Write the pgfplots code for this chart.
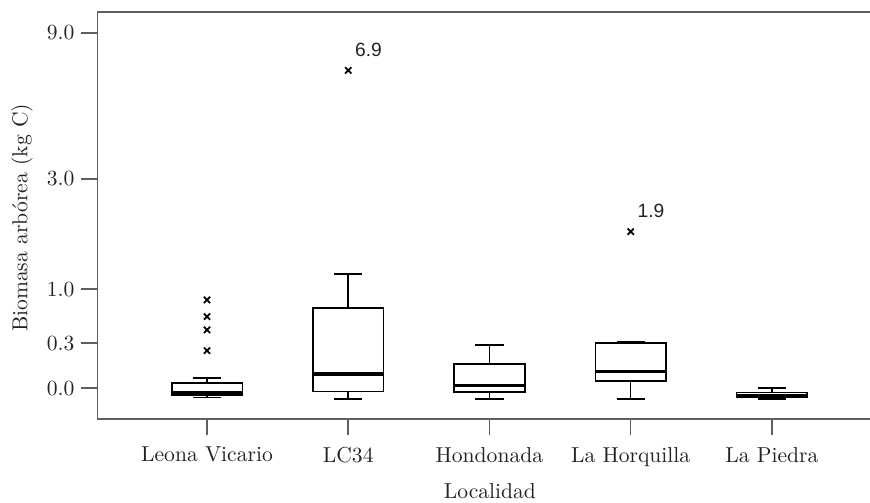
\documentclass[border=0pt]{standalone}
\usepackage{fontspec}
\usepackage{pgfplots}
\pgfplotsset{compat=1.18}
\usepgfplotslibrary{statistics}
\newfontfamily\arial{Liberation Sans}
\definecolor{axisgray}{RGB}{95,95,95}
\definecolor{txt}{RGB}{35,35,35}
\begin{document}
\begin{tikzpicture}
\path[use as bounding box] (0,0) rectangle (435pt,251pt);
\begin{axis}[
  at={(48.75pt,41.5pt)}, anchor=south west,
  width=386.25pt, height=203.5pt, scale only axis,
  xmin=0.2245, xmax=5.695,
  ymin=-0.1151, ymax=10.398,
  y coord trafo/.code={%
    \edef\tmparg{#1}%
    \ifx\tmparg\empty\def\pgfmathresult{}\else\pgfmathparse{ln(1+#1)}\fi},
  y coord inv trafo/.code={\pgfmathparse{exp(#1)-1}},
  axis y line*=left,
  xtick pos=bottom, ytick pos=left,
  tick align=outside, major tick length=8pt,
  axis line style={axisgray, line width=0.8pt},
  tick style={axisgray, line width=0.8pt},
  xtick={1,2,3,4,5},
  xticklabels={Leona Vicario, LC34, Hondonada, La Horquilla, La Piedra},
  ytick={0.0733,0.4242,1,3,9},
  yticklabels={0.0,0.3,1.0,3.0,9.0},
  ticklabel style={font=\fontsize{10.8}{12}\selectfont, text=txt},
  xticklabel style={yshift=-2.5pt},
  xlabel={Localidad},
  ylabel={Biomasa arbórea (kg C)},
  label style={font=\fontsize{10.8}{12}\selectfont, text=txt},
  xlabel style={at={(axis description cs:0.508,-0.1941)}, anchor=base},
  ylabel style={at={(axis description cs:-0.0977,0.494)}, anchor=center},
  boxplot/draw direction=y,
  boxplot/box extend=0.5,
  boxplot/whisker extend=0.2,
  boxplot/every box/.style={draw=black, fill=white, line width=0.8pt},
  boxplot/every whisker/.style={draw=black, line width=0.8pt},
  boxplot/every median/.style={draw=black, line width=1.6pt},
  clip=false,
]
% Leona Vicario
\addplot[black, mark=x, mark size=2.2pt, mark options={line width=0.9pt},
  boxplot prepared={draw position=1, lower whisker=0.012, lower quartile=0.029,
    median=0.0467, upper quartile=0.1076, upper whisker=0.143}]
  coordinates {(0,0.870) (0,0.684) (0,0.549) (0,0.359)};
% LC34
\addplot[black, mark=x, mark size=2.2pt, mark options={line width=0.9pt},
  boxplot prepared={draw position=2, lower whisker=0.005, lower quartile=0.0506,
    median=0.174, upper quartile=0.775, upper whisker=1.202}]
  coordinates {(0,6.9)};
% Hondonada
\addplot[black,
  boxplot prepared={draw position=3, lower whisker=0.003, lower quartile=0.0467,
    median=0.091, upper quartile=0.250, upper whisker=0.409}]
  coordinates {};
% La Horquilla
\addplot[black, mark=x, mark size=2.2pt, mark options={line width=0.9pt},
  boxplot prepared={draw position=4, lower whisker=0.003, lower quartile=0.1237,
    median=0.191, upper quartile=0.424, upper whisker=0.4387}]
  coordinates {(0,1.87)};
% La Piedra
\addplot[black,
  boxplot prepared={draw position=5, lower whisker=0.004, lower quartile=0.0117,
    median=0.022, upper quartile=0.044, upper whisker=0.0733}]
  coordinates {};
\node[anchor=base west, inner sep=0pt, font=\arial\fontsize{9.6}{11}\selectfont, text=txt]
  at ([xshift=3.3pt, yshift=7pt]axis cs:2,6.9) {6.9};
\node[anchor=base west, inner sep=0pt, font=\arial\fontsize{9.6}{11}\selectfont, text=txt]
  at ([xshift=3.3pt, yshift=7pt]axis cs:4,1.87) {1.9};
\end{axis}
\end{tikzpicture}
\end{document}
